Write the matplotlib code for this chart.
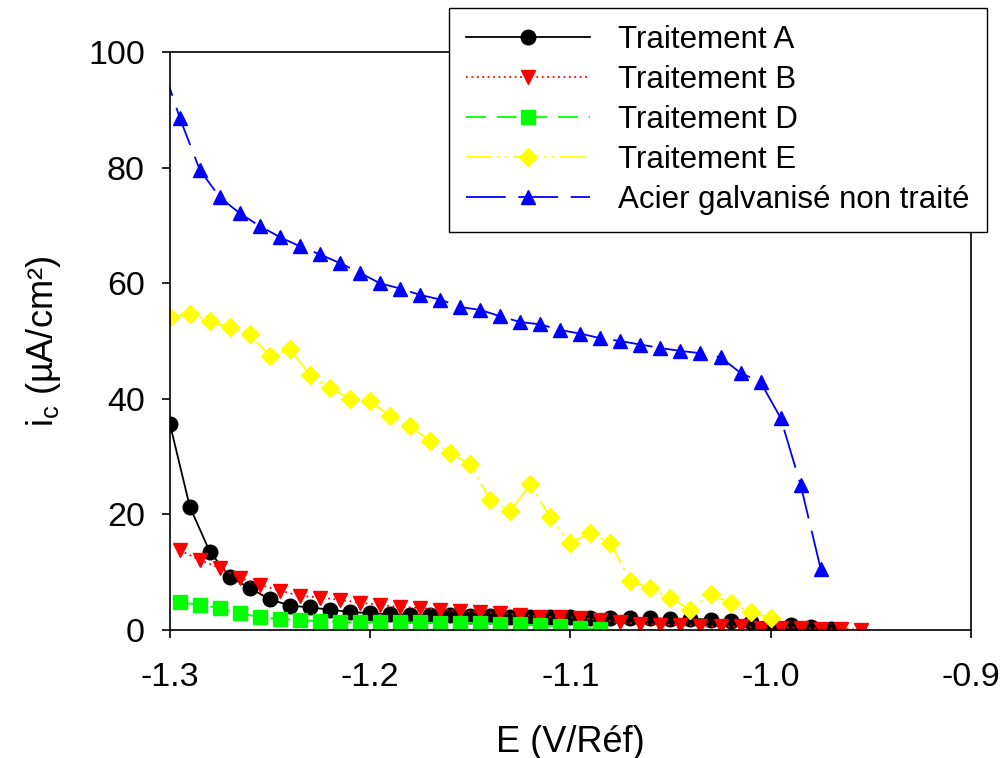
import numpy as np
import matplotlib
matplotlib.use("Agg")
import matplotlib.pyplot as plt

plt.rcParams['font.family'] = ['Liberation Sans', 'DejaVu Sans']
plt.rcParams['axes.unicode_minus'] = False
plt.rcParams['mathtext.default'] = 'regular'

# Traitement A
E_a = np.round(np.arange(-1.30, -0.965, 0.01), 3)
i_a = [35.7, 21.3, 13.5, 9.2, 7.2, 5.3, 4.2, 3.9, 3.5, 3.1, 2.9, 2.7, 2.6, 2.5,
       2.5, 2.4, 2.4, 2.3, 2.3, 2.2, 2.2, 2.1, 2.1, 2.0, 2.0, 1.9, 1.9, 1.8,
       1.6, 1.3, 1.1, 0.8, 0.5, 0.2]

# Traitement B
E_b = np.round(np.arange(-1.295, -0.950, 0.01), 3)
i_b = [13.8, 12.1, 10.7, 9.0, 7.8, 6.8, 5.9, 5.6, 5.2, 4.7, 4.3, 4.0, 3.8, 3.5,
       3.3, 3.1, 2.9, 2.6, 2.3, 2.2, 2.1, 1.7, 1.3, 1.1, 0.9, 0.9, 0.7, 0.6,
       0.6, 0.4, 0.4, 0.4, 0.2, 0.2, 0.0]

# Traitement D
E_d = np.round(np.arange(-1.295, -1.080, 0.01), 3)
i_d = [4.8, 4.3, 3.8, 2.9, 2.2, 1.9, 1.7, 1.5, 1.4, 1.3, 1.3, 1.3, 1.3, 1.2,
       1.2, 1.2, 1.1, 1.0, 0.8, 0.6, 0.4, 0.1]

# Traitement E
E_e = np.round(np.arange(-1.30, -0.995, 0.01), 3)
i_e = [54.2, 54.7, 53.5, 52.4, 51.2, 47.4, 48.6, 44.1, 41.9, 40.0, 39.6, 37.0,
       35.3, 32.7, 30.6, 28.7, 22.5, 20.6, 25.2, 19.5, 15.0, 16.8, 15.0, 8.5,
       7.2, 5.5, 3.5, 6.2, 4.7, 3.1, 2.0]

# Acier galvanise non traite
E_g = np.round(np.arange(-1.305, -0.970, 0.01), 3)
i_g = [99.0, 88.6, 79.6, 74.9, 72.1, 69.9, 68.0, 66.4, 65.0, 63.5, 61.8, 60.0,
       59.1, 58.0, 57.2, 55.9, 55.4, 54.3, 53.3, 52.9, 51.9, 51.3, 50.5, 50.0,
       49.4, 48.8, 48.3, 47.9, 47.2, 44.5, 42.9, 36.7, 25.1, 10.6]

labels = ['Traitement A', 'Traitement B', 'Traitement D', 'Traitement E',
          'Acier galvanisé non traité']

fig = plt.figure(figsize=(10.05, 7.58), dpi=100)
ax = fig.add_axes([0.169, 0.169, 0.797, 0.762])

ax.plot(E_a, i_a, '-', color='black', lw=1.3, marker='o', ms=10.5,
        label=labels[0])
ax.plot(E_b, i_b, color='red', lw=1.3, dashes=(1, 2), marker='v', ms=10.5,
        label=labels[1])
ax.plot(E_d, i_d, color='#00ff00', lw=1.3, dashes=(11, 6), marker='s', ms=9.5,
        label=labels[2])
ax.plot(E_e, i_e, color='#ffff00', lw=1.3, dashes=(14, 3, 1.5, 3, 1.5, 3),
        marker='D', ms=9.5, label=labels[3])
ax.plot(E_g, i_g, color='#0000ff', lw=1.3, dashes=(22, 7), marker='^', ms=10.5,
        label=labels[4])

ax.set_xlim(-1.3, -0.9)
ax.set_ylim(0, 100)
ax.set_xticks([-1.3, -1.2, -1.1, -1.0, -0.9])
ax.set_xticklabels(['-1.3', '-1.2', '-1.1', '-1.0', '-0.9'])
ax.set_yticks([0, 20, 40, 60, 80, 100])
ax.tick_params(axis='x', direction='out', length=6, width=1.2, labelsize=24.5,
               pad=17)
ax.tick_params(axis='y', direction='out', length=6, width=1.2, labelsize=24.5,
               pad=12)
for s in ax.spines.values():
    s.set_linewidth(1.2)

ax.set_xlabel('E (V/Réf)', fontsize=26, labelpad=23)
ax.set_ylabel(r'i$_\mathregular{c}$ (µA/cm²)', fontsize=26, labelpad=18)

leg = ax.legend(loc='upper right', bbox_to_anchor=(987 / 1005, 1 - 8 / 758),
                bbox_transform=fig.transFigure, fontsize=22.5, fancybox=False,
                edgecolor='black', framealpha=1, borderaxespad=0,
                handlelength=3.97, handletextpad=0.9, labelspacing=0.32,
                borderpad=0.55)
leg.get_frame().set_linewidth(1.0)

fig.savefig('out.png', dpi=100)
